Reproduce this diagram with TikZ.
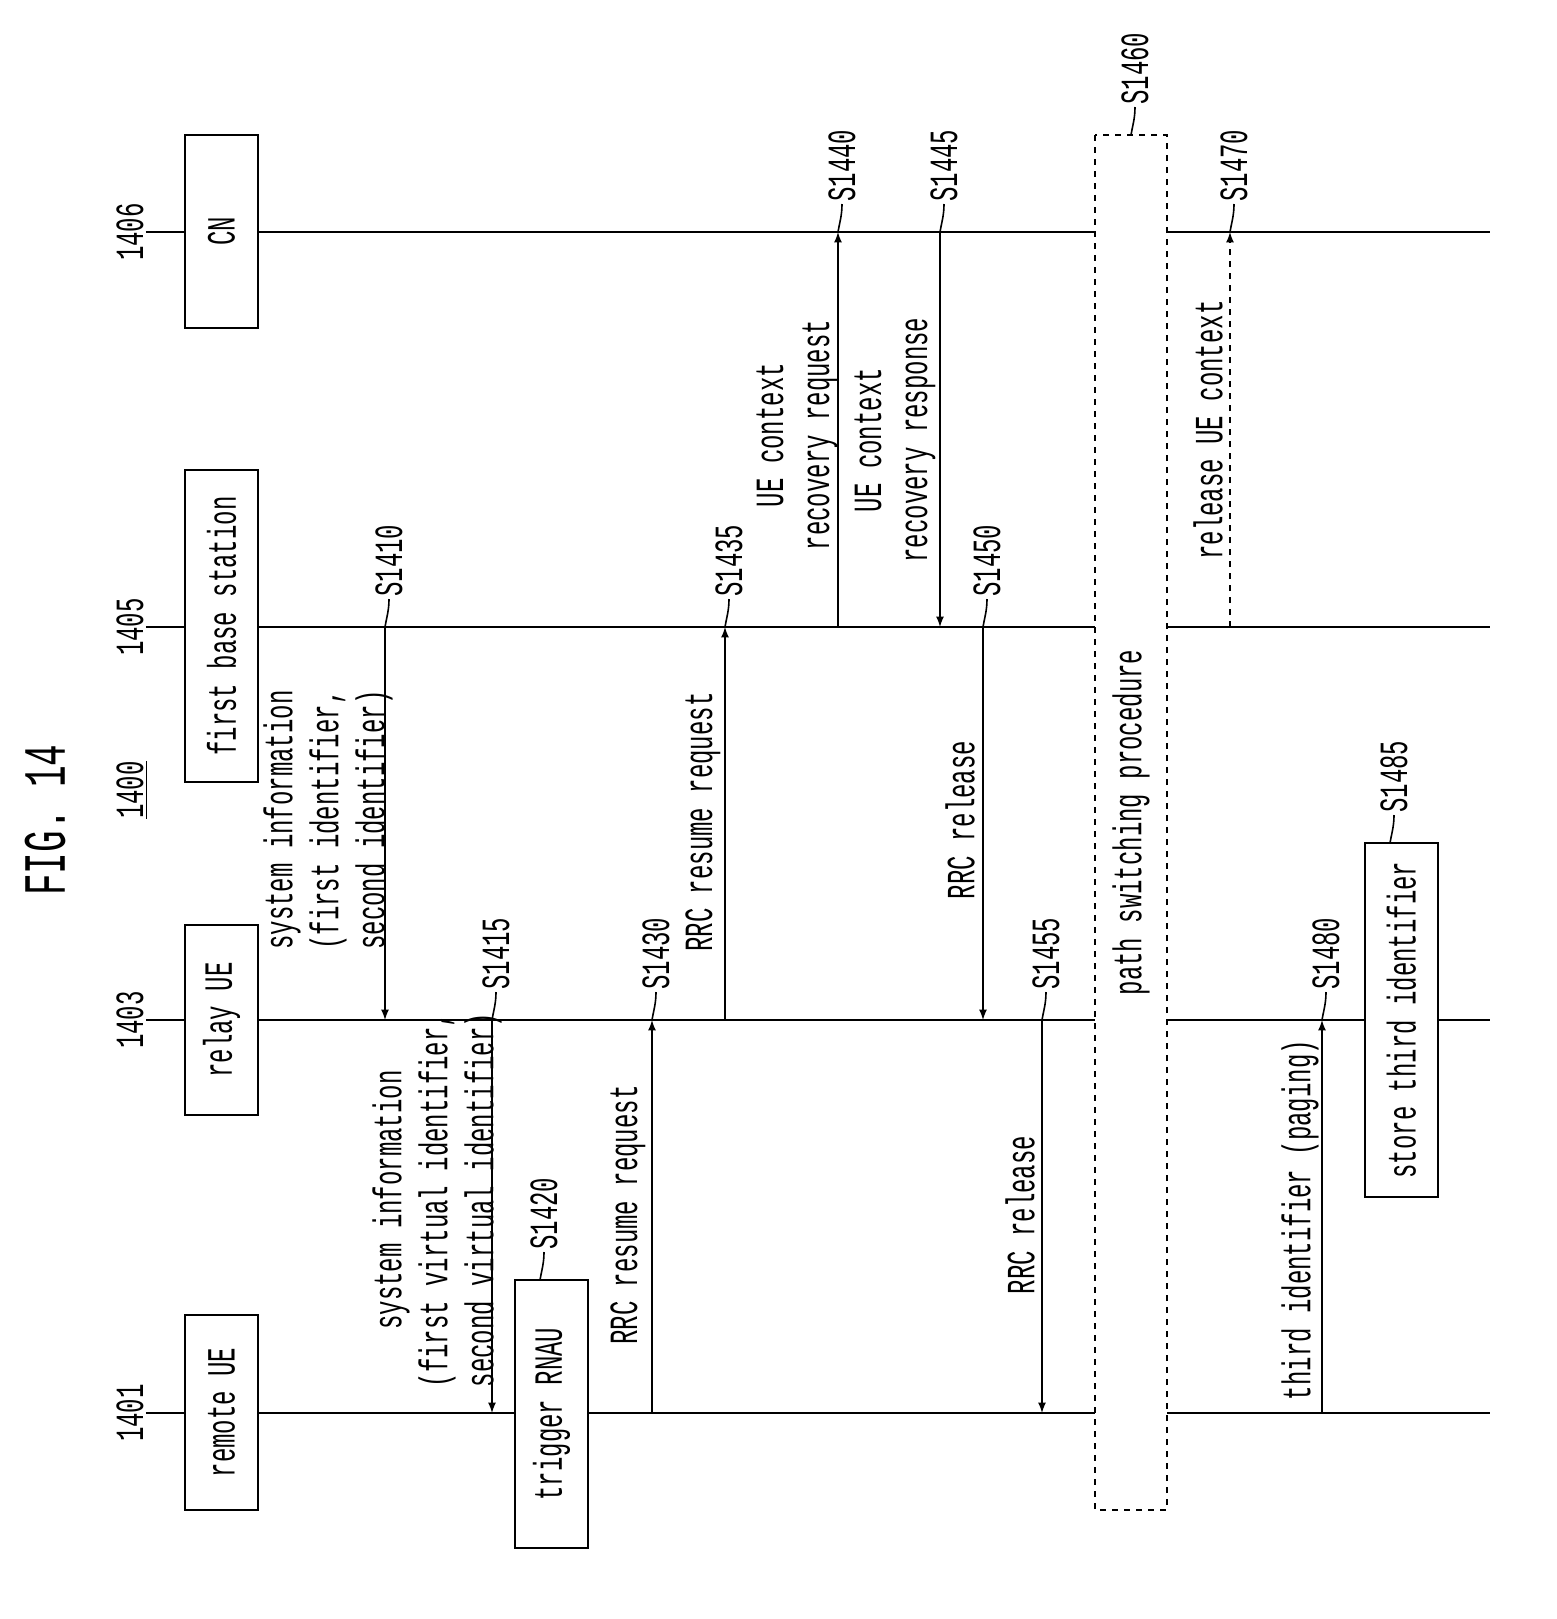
\documentclass[tikz,border=0pt]{standalone}
\usepackage{fontspec}
\setmainfont[FakeStretch=0.6]{Liberation Mono}
\usepackage{tikz}
\newcommand{\steplabel}[4]{
  \node[steptxt,anchor=west] (#1) at (#2+4,#3-28) {#4};
  \draw[thick] (#1.west) to[out=-90,in=80] (#2,#3);
}
\newcommand{\entlabel}[3]{
  \node[steptxt] (#1) at (130,#2) {#3};
  \draw[thick] (#1.south) to[out=0,in=180] (185,#2);
}
\tikzset{
  steptxt/.style={rotate=90,font=\fontsize{20}{22}\selectfont,inner sep=1pt},
  msgtxt/.style={rotate=90,font=\fontsize{20}{23}\selectfont,align=center,inner sep=2pt},
  ent/.style={draw,very thick,rotate=90,minimum height=36.5pt,inner sep=1pt,font=\fontsize{20}{22}\selectfont},
  life/.style={thick},
  msg/.style={thick,-latex},
}
\begin{document}
\begin{tikzpicture}[x=0.5pt,y=-0.5pt]
  \useasboundingbox (0,0) rectangle (1557,1619);
  \node[rotate=90,font=\fontsize{30}{32}\selectfont] (fig) at (45,820) {FIG. 14};
  \node[steptxt] (n1400) at (132,790) {\underline{1400}};

  % lifelines
  \foreach \y in {232,627,1020,1413}{
    \draw[life] (258,\y) -- (1490,\y);
  }
  \node[ent,minimum width=96.5pt] (cn) at (221.5,231.5) {CN};
  \node[ent,minimum width=156pt] (bs) at (221.5,626) {first base station};
  \node[ent,minimum width=95pt] (relay) at (221.5,1020) {relay UE};
  \node[ent,minimum width=97.5pt] (remote) at (221.5,1412.5) {remote UE};
  \entlabel{l1406}{232}{1406}
  \entlabel{l1405}{627}{1405}
  \entlabel{l1403}{1020}{1403}
  \entlabel{l1401}{1413}{1401}

  % S1410
  \coordinate (a1) at (385,627); \coordinate (b1) at (385,1020);
  \draw[msg] (a1) -- (b1);
  \node[msgtxt] (t1410) at (328,820) {system information\\(first identifier,\\second identifier)};
  \steplabel{s1410}{385}{627}{S1410}
  % S1415
  \coordinate (a2) at (492,1020); \coordinate (b2) at (492,1413);
  \draw[msg] (a2) -- (b2);
  \node[msgtxt] (t1415) at (437,1200) {system information\\(first virtual identifier,\\second virtual identifier)};
  \steplabel{s1415}{492}{1020}{S1415}
  % S1420
  \node[ent,minimum width=134pt,fill=white] (rnau) at (551.5,1414) {trigger RNAU};
  \steplabel{s1420}{540}{1280}{S1420}
  % S1430
  \coordinate (a3) at (652,1413); \coordinate (b3) at (652,1020);
  \draw[msg] (a3) -- (b3);
  \node[msgtxt] (t1430) at (628,1215) {RRC resume request};
  \steplabel{s1430}{652}{1020}{S1430}
  % S1435
  \coordinate (a4) at (725,1020); \coordinate (b4) at (725,627);
  \draw[msg] (a4) -- (b4);
  \node[msgtxt] (t1435) at (703,822) {RRC resume request};
  \steplabel{s1435}{725}{627}{S1435}
  % S1440
  \coordinate (a5) at (838,627); \coordinate (b5) at (838,232);
  \draw[msg] (a5) -- (b5);
  \node[msgtxt] (t1440) at (797,435) {UE context\\recovery request};
  \steplabel{s1440}{838}{232}{S1440}
  % S1445
  \coordinate (a6) at (940,232); \coordinate (b6) at (940,627);
  \draw[msg] (a6) -- (b6);
  \node[msgtxt] (t1445) at (895,440) {UE context\\recovery response};
  \steplabel{s1445}{940}{232}{S1445}
  % S1450
  \coordinate (a7) at (983,627); \coordinate (b7) at (983,1020);
  \draw[msg] (a7) -- (b7);
  \node[msgtxt] (t1450) at (960,820) {RRC release};
  \steplabel{s1450}{983}{627}{S1450}
  % S1455
  \coordinate (a8) at (1042,1020); \coordinate (b8) at (1042,1413);
  \draw[msg] (a8) -- (b8);
  \node[msgtxt] (t1455) at (1020,1215) {RRC release};
  \steplabel{s1455}{1042}{1020}{S1455}
  % S1460
  \node[ent,dashed,thick,minimum width=687.5pt,minimum height=36pt,fill=white] (path) at (1131,822.5) {path switching procedure};
  \steplabel{s1460}{1131}{135}{S1460}
  % S1470
  \coordinate (a9) at (1230,627); \coordinate (b9) at (1230,232);
  \draw[msg,dashed] (a9) -- (b9);
  \node[msgtxt] (t1470) at (1208,430) {release UE context};
  \steplabel{s1470}{1230}{232}{S1470}
  % S1480
  \coordinate (a10) at (1322,1413); \coordinate (b10) at (1322,1020);
  \draw[msg] (a10) -- (b10);
  \node[msgtxt] (t1480) at (1300,1220) {third identifier (paging)};
  \steplabel{s1480}{1322}{1020}{S1480}
  % S1485
  \node[ent,minimum width=177pt,fill=white] (store) at (1401.5,1020) {store third identifier};
  \steplabel{s1485}{1390}{843}{S1485}
\end{tikzpicture}
\end{document}
